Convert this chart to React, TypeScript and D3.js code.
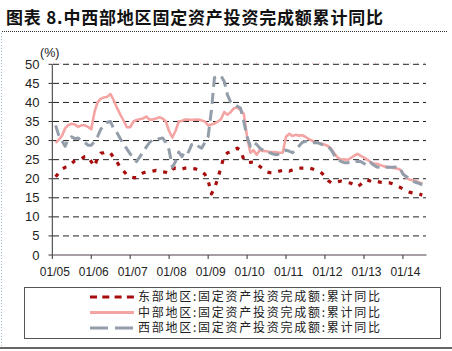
import React from 'react';
import * as d3 from 'd3';

const W = 452;
const H = 351;

// monthly, Feb 2005 .. Jul 2014
const months = d3.timeMonth.range(new Date(2005, 1, 1), new Date(2014, 7, 1));

const eastValues = [
  20.5, 21.5, 22.5, 23, 23.2, 24, 24.7, 24.8, 25.2, 25.8, 25.8,
  24.5, 23.2, 25.5, 26.7, 26.8, 27.1, 26.7, 25.5, 24.3, 23, 22, 21,
  20.5, 20.3, 20.3, 21, 21.5, 21.8, 21.8, 22, 22.2, 22, 21.8, 21.7,
  21.4, 22.5, 22.8, 22.5, 22.5, 22.8, 22.8, 22.7, 22.6, 22.3, 21.8, 21.2,
  19.5, 16, 17.5, 20, 23, 26, 26.8, 27, 27.5, 28, 27.5, 25,
  24.2, 24.3, 24.4, 24, 23.2, 22.5, 21.8, 21.6, 21.6, 21.7, 22, 22.2,
  22.3, 22, 22.3, 22.6, 22.8, 22.8, 22.8, 22.8, 22.6, 22.3, 22, 21.5,
  20.7, 19.5, 18.9, 19, 19.2, 19.4, 19.2, 19, 18.8, 18.4, 17.9, 18.5,
  19.4, 19.7, 19.4, 19.1, 19.3, 19.1, 19, 18.9, 18.9, 18.6, 18.2, 17.8,
  17.3, 16.8, 16.5, 16.3, 16.2, 16, 15.7,
];

const centralValues = [
  29.4, 30.2, 31.2, 33.2, 34.1, 34.4, 34.2, 33.6, 34, 34, 33.6,
  33, 37.5, 40, 41, 41.3, 41.5, 42.2, 40.5, 38.5, 36.8, 35.2, 33.5,
  33.5, 35, 35.4, 35.6, 35.8, 36.3, 35.5, 35.5, 35.8, 36.1, 35.8, 35,
  32.5, 30.8, 32.5, 35, 35.2, 35.5, 35.5, 35.4, 35.5, 35.5, 35.3, 35,
  34, 34.2, 34.5, 35, 35.6, 37.5, 36.8, 37.5, 38.5, 38.7, 38, 37,
  31, 26.8, 27.5, 26.3, 27.5, 27.3, 27.2, 27, 27, 26.9, 26.8, 26.8,
  31, 31.8, 31.2, 31.5, 31.3, 31.4, 31, 30.4, 30, 29.6, 29.3, 29.2,
  28.9, 28.5, 27.8, 26.5, 25.5, 25, 25.1, 24.9, 25.5, 26, 26.5, 26,
  25.5, 25, 24.4, 24, 23.9, 23.6, 23.3, 23.1, 23, 22.8, 22.7, 22.5,
  21.5, 20.3, 19.8, 19.6, 19.4, 19, 18.8,
];

const westValues = [
  34, 31.5, 30, 28.5, 30.5, 31, 30.5, 30.7, 29.8, 29.5, 28.8,
  28.8, 29.8, 31, 33, 34, 34.8, 35, 33, 32, 30.5, 29, 27.8,
  26.5, 25.5, 24.5, 25.7, 27, 28.3, 29.5, 30.2, 30.2, 30.5, 30.7, 29.5,
  27.5, 23, 24.5, 27, 25.8, 27.5, 27, 29, 29.3, 28.5, 28, 29.5,
  31, 38, 46.5, 46.8, 47, 45.5, 42, 40, 39.5, 39, 38.5, 35,
  31, 28.5, 29.5, 29, 28, 27.5, 27, 26.8, 26.5, 26.3, 26.5, 27,
  27.5, 27.2, 26.8, 27.5, 28.5, 29.5, 29.8, 29.6, 29.4, 29.5, 29.4, 29,
  28.8, 28.5, 27.5, 26, 25, 24.5, 24.2, 24.2, 24.4, 24.4, 24.6, 24.5,
  24, 23.5, 24.3, 23.6, 23.1, 23, 23, 23, 23, 23, 23.1, 23,
  21.2, 20.6, 20, 19.5, 19, 18.8, 18.4,
];

const yTicks = [0, 5, 10, 15, 20, 25, 30, 35, 40, 45, 50];
const yearTicks = d3.timeYear.range(new Date(2005, 0, 1), new Date(2014, 1, 1));
const legendLabels = [
  '东部地区:固定资产投资完成额:累计同比',
  '中部地区:固定资产投资完成额:累计同比',
  '西部地区:固定资产投资完成额:累计同比',
];
const titleText = '图表 8.中西部地区固定资产投资完成额累计同比';

const cjk = '"Noto Sans CJK SC", sans-serif';
const latin = '"Liberation Sans", Arial, sans-serif';

const styles = [
  { stroke: '#a80d0d', width: 3.2, dash: '4,7' },
  { stroke: '#f4a4a2', width: 2.6, dash: undefined },
  { stroke: '#939eaa', width: 3, dash: '11,6' },
];

export default function App() {
  const x = d3.scaleTime()
    .domain([new Date(2005, 0, 1), new Date(2014, 7, 10)])
    .range([52.3, 426.5]);
  const y = d3.scaleLinear().domain([0, 50]).range([255, 64.3]);

  const line = d3.line<number>()
    .x((_, i) => x(months[i]))
    .y(v => y(v));

  const series = [eastValues, centralValues, westValues];
  const fmt = d3.timeFormat('01/%y');

  return (
    <div style={{ position: 'fixed', left: 0, top: 0 }}>
      <svg width={W} height={H} style={{ display: 'block', background: '#fff' }}>
        {/* left dotted border */}
        <line x1={1.5} x2={1.5} y1={33} y2={346} stroke="#9fb9dc" strokeDasharray="1,2" />

        {/* title */}
        <text x={6} y={24} fontFamily={cjk} fontSize={17} fontWeight={700} fill="#111"
          textLength={377} lengthAdjust="spacing">{titleText}</text>
        <line x1={2} x2={448} y1={31.5} y2={31.5} stroke="#333" strokeDasharray="1,1" />

        {/* grid */}
        <line x1={53} x2={426} y1={63} y2={63} stroke="#f0b8cc" strokeDasharray="1,6" />
        {yTicks.filter(t => t > 0).map(t => (
          <line key={t} x1={53} x2={426} y1={y(t)} y2={y(t)}
            stroke="#222" strokeWidth={1} strokeDasharray="6,4" />
        ))}

        {/* y axis */}
        <line x1={52.3} x2={52.3} y1={y(50)} y2={y(0)} stroke="#333" />
        {yTicks.map(t => (
          <g key={t}>
            <line x1={48.5} x2={52.3} y1={y(t)} y2={y(t)} stroke="#333" />
            <text x={39.5} y={y(t) + 4.5} textAnchor="end" fontFamily={latin}
              fontSize={13} fill="#222">{t}</text>
          </g>
        ))}
        <text x={40} y={57} fontFamily={latin} fontSize={12.5} fill="#222">(%)</text>

        {/* x axis */}
        <line x1={52.3} x2={426.5} y1={y(0)} y2={y(0)} stroke="#8a7c86" strokeWidth={1.6} />
        {yearTicks.map(d => (
          <g key={d.getTime()}>
            <line x1={x(d)} x2={x(d)} y1={y(0)} y2={y(0) + 4} stroke="#333" />
            <text x={x(d) + 2.5} y={276} textAnchor="middle" fontFamily={latin}
              fontSize={12} fill="#222">{fmt(d)}</text>
          </g>
        ))}

        {/* series */}
        {series.map((vals, k) => (
          <path key={k} d={line(vals) || ''} fill="none" stroke={styles[k].stroke}
            strokeWidth={styles[k].width} strokeDasharray={styles[k].dash}
            strokeLinejoin="round" />
        ))}

        {/* legend */}
        <rect x={24.5} y={287.5} width={416} height={51} fill="none" stroke="#555" />
        {legendLabels.map((lab, k) => {
          const ly = 297 + k * 15.5;
          return (
            <g key={lab}>
              <line x1={90} x2={134} y1={ly} y2={ly} stroke={styles[k].stroke}
                strokeWidth={k === 1 ? 3 : 3.2}
                strokeDasharray={k === 0 ? '7,5.3' : k === 2 ? '18,7' : undefined} />
              <text x={138} y={ly + 4.2} fontFamily={cjk} fontSize={12} fill="#222"
                textLength={242} lengthAdjust="spacing">{lab}</text>
            </g>
          );
        })}

        {/* bottom rule */}
        <line x1={0} x2={W} y1={348} y2={348} stroke="#333" strokeWidth={1.5} />
      </svg>
    </div>
  );
}
